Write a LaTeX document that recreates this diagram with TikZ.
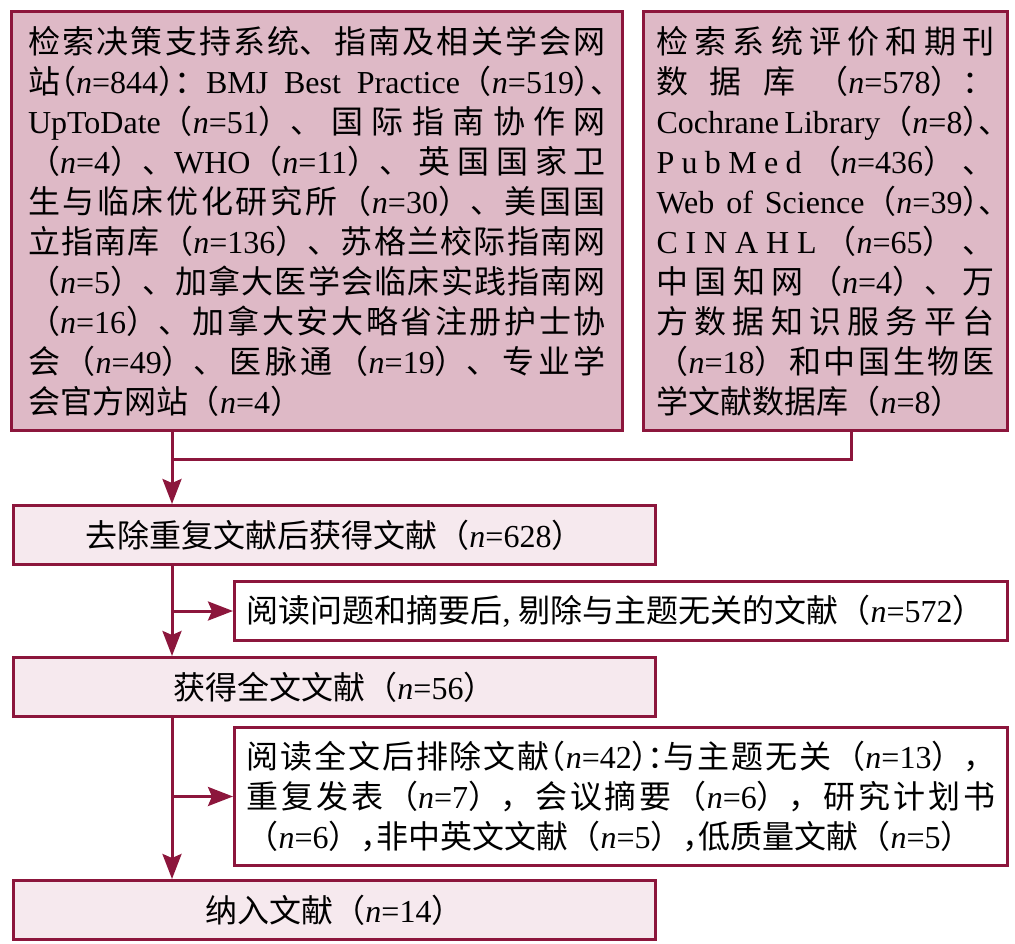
\documentclass[tikz,border=0pt]{standalone}
\usepackage{fontspec}
\setmainfont{Liberation Serif}
\newfontfamily\cjkfull[Script=CJK]{Noto Sans CJK SC}
\newfontfamily\cjkhalt[Script=CJK,RawFeature=+halt]{Noto Sans CJK SC}
\let\cjkfont\cjkfull
\usetikzlibrary{arrows.meta}
\definecolor{wine}{RGB}{140,22,60}
\definecolor{rosefill}{RGB}{222,185,198}
\definecolor{palefill}{RGB}{246,233,238}
% switch to the CJK face for runs of Chinese characters
\XeTeXinterchartokenstate=1
\newXeTeXintercharclass\cjkclass
\newcount\cjkcode
\def\setcjkrange#1#2{\cjkcode=#1\relax
  \loop\XeTeXcharclass\cjkcode=\cjkclass
  \ifnum\cjkcode<#2\relax\advance\cjkcode by 1 \repeat}
\setcjkrange{"3000}{"303F}
\setcjkrange{"4E00}{"9FFF}
\setcjkrange{"FF00}{"FFEF}
\XeTeXinterchartoks 0 \cjkclass={\begingroup\cjkfont}
\XeTeXinterchartoks 4095 \cjkclass={\begingroup\cjkfont}
\XeTeXinterchartoks \cjkclass 0={\endgroup}
\XeTeXinterchartoks \cjkclass 4095={\endgroup}
\XeTeXlinebreaklocale "zh"
\XeTeXlinebreakskip=0pt plus 8pt
\tolerance=10000
\newcommand\nn[1]{\textit{n}=#1}
\newcommand\tight[1]{{\let\cjkfont\cjkhalt#1}}
\begin{document}
\begin{tikzpicture}[x=1pt,y=-1pt,
  box/.style={draw=wine,line width=3pt,inner sep=0pt,font=\fontsize{32pt}{40pt}\selectfont},
  srcbox/.style={box,fill=rosefill,anchor=north west,align=justify,minimum height=419pt},
  stagebox/.style={box,fill=palefill,anchor=north west,minimum width=642pt,minimum height=59pt},
  notebox/.style={box,fill=white,anchor=north west,align=justify,text width=749pt,inner xsep=12pt},
  link/.style={draw=wine,line width=3pt},
  arr/.style={link,-{Stealth[length=25pt,width=19pt,inset=4pt]}}]
\useasboundingbox (0,0) rectangle (1015,944);
\node[srcbox,text width=578pt,inner xsep=16.5pt] (src1) at (10,10) {%
  检索决策支持系统、指南及相关学会网\linebreak
  站\tight{（}\nn{844}\tight{）}：BMJ Best Practice（\nn{519}\tight{）、}\linebreak
  UpToDate（\nn{51}）、国际指南协作网\linebreak
  （\nn{4}）、WHO（\nn{11}）、英国国家卫\linebreak
  生与临床优化研究所（\nn{30}）、美国国\linebreak
  立指南库（\nn{136}）、苏格兰校际指南网\linebreak
  （\nn{5}）、加拿大医学会临床实践指南网\linebreak
  （\nn{16}）、加拿大安大略省注册护士协\linebreak
  会（\nn{49}）、医脉通（\nn{19}）、专业学\linebreak
  会官方网站（\nn{4}）};
\node[srcbox,text width=338pt,inner xsep=13pt] (src2) at (642,10) {%
  检索系统评价和期刊\linebreak
  数据库（\nn{578}）：\linebreak
  Cochrane Library（\nn{8}\tight{）、}\linebreak
  P\hfil u\hfil b\hfil M\hfil e\hfil d\hfil（\nn{436}）\hfil、\linebreak
  Web of Science（\nn{39}\tight{）、}\linebreak
  C\hfil I\hfil N\hfil A\hfil H\hfil L\hfil（\nn{65}）\hfil、\linebreak
  中国知网（\nn{4}）、万\linebreak
  方数据知识服务平台\linebreak
  （\nn{18}）和中国生物医\linebreak
  学文献数据库（\nn{8}）};
\node[stagebox] (dedup) at (12,504) {去除重复文献后获得文献（\nn{628}）};
\node[notebox,minimum height=59pt] (excl1) at (233,580) {\parfillskip=0pt
  阅读问题和摘要后, 剔除与主题无关的文献（\nn{572}）};
\node[stagebox] (fulltext) at (12,656) {获得全文文献（\nn{56}）};
\node[notebox,minimum height=138pt] (excl2) at (233,726) {\parfillskip=0pt
  阅读全文后排除文献\tight{（}\nn{42}\tight{）：}与主题无关（\nn{13}），\linebreak
  重复发表（\nn{7}），会议摘要（\nn{6}），研究计划书\linebreak
  （\nn{6}）\tight{，}非中英文文献（\nn{5}）\tight{，}低质量文献（\nn{5}）};
\node[stagebox] (incl) at (12,879) {纳入文献（\nn{14}）};
\coordinate (spine) at (172,0);
\coordinate (tap) at (851,0);
\coordinate (merge) at (172,459);
\draw[link] (tap |- src2.south) |- (merge);
\draw[arr] (spine |- src1.south) -- (spine |- dedup.north);
\draw[arr] (spine |- dedup.south) -- (spine |- fulltext.north);
\draw[arr] (spine |- excl1.west) -- (excl1.west);
\draw[arr] (spine |- fulltext.south) -- (spine |- incl.north);
\draw[arr] (spine |- excl2.west) -- (excl2.west);
\end{tikzpicture}
\end{document}
